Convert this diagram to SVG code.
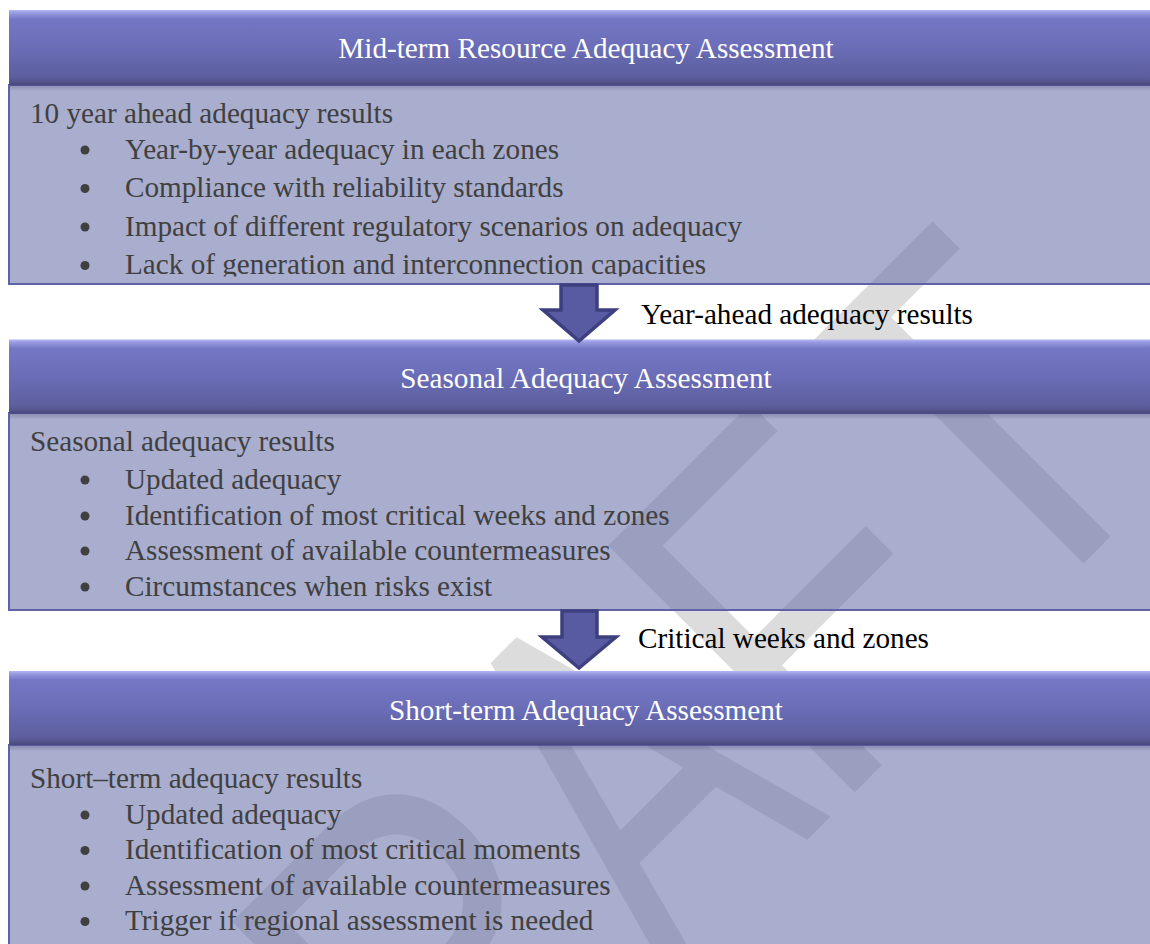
<svg xmlns="http://www.w3.org/2000/svg" width="1150" height="944" viewBox="0 0 1150 944">
<defs>
  <linearGradient id="hdr" x1="0" y1="0" x2="0" y2="1">
    <stop offset="0" stop-color="#B2B6F2"/>
    <stop offset="0.04" stop-color="#979AE0"/>
    <stop offset="0.12" stop-color="#7477C4"/>
    <stop offset="0.5" stop-color="#6B6DB7"/>
    <stop offset="0.88" stop-color="#5D5F9F"/>
    <stop offset="0.95" stop-color="#55568E"/>
    <stop offset="1" stop-color="#46477A"/>
  </linearGradient>
  <linearGradient id="shd" x1="0" y1="0" x2="0" y2="1">
    <stop offset="0" stop-color="#2A2B55" stop-opacity="0.25"/>
    <stop offset="1" stop-color="#2A2B55" stop-opacity="0"/>
  </linearGradient>
  <clipPath id="clip1"><rect x="9" y="85" width="1141" height="191.5"/></clipPath>
</defs>
<style>
  .body{fill:#686EA9;fill-opacity:0.57;stroke:#5F62A9;stroke-width:2}
  .hdr{fill:url(#hdr)}
  .shd{fill:url(#shd)}
  .title{font-family:"Liberation Serif","Times New Roman",serif;font-size:29.2px;fill:#FFFFFF;text-anchor:middle}
  .txt{font-family:"Liberation Serif","Times New Roman",serif;font-size:29.2px;fill:#404040}
  .lbl{font-family:"Liberation Serif","Times New Roman",serif;font-size:29.2px;fill:#000000}
  .bul{fill:#404040}
  .arrow{fill:#585BA1;stroke:#3D3F7E;stroke-width:3.5;stroke-linejoin:miter}
  .wm{font-family:"Liberation Sans",Arial,sans-serif;font-size:507px;fill:#DCDCDC}
</style>
<rect x="0" y="0" width="1150" height="944" fill="#FFFFFF"/>

<g id="watermark">
  <text class="wm" transform="translate(249.8,1397.2) rotate(-45) scale(0.81,1)">D</text>
  <text class="wm" transform="translate(454.8,1192.2) rotate(-45) scale(0.81,1)">R</text>
  <text class="wm" transform="translate(668.4,978.6) rotate(-45) scale(0.68,1)">A</text>
  <text class="wm" transform="translate(831,816) rotate(-45) scale(0.81,1)">F</text>
  <text class="wm" transform="translate(1008.4,638.6) rotate(-45) scale(0.81,1)">T</text>
</g>

<g id="node-midterm">
  <rect class="body" x="9" y="85" width="1150" height="199"/>
  <rect class="hdr" x="9" y="10" width="1150" height="75"/>
  <rect class="shd" x="10" y="85" width="1150" height="6"/>
  <text class="title" x="586" y="58">Mid-term Resource Adequacy Assessment</text>
  <g clip-path="url(#clip1)">
    <text class="txt" x="30" y="122.5">10 year ahead adequacy results</text>
    <circle class="bul" cx="85" cy="150" r="4.5"/>
    <text class="txt" x="125" y="158.5">Year-by-year adequacy in each zones</text>
    <circle class="bul" cx="85" cy="188.5" r="4.5"/>
    <text class="txt" x="125" y="197">Compliance with reliability standards</text>
    <circle class="bul" cx="85" cy="227" r="4.5"/>
    <text class="txt" x="125" y="235.5">Impact of different regulatory scenarios on adequacy</text>
    <circle class="bul" cx="85" cy="265.5" r="4.5"/>
    <text class="txt" x="125" y="274">Lack of generation and interconnection capacities</text>
  </g>
</g>

<g id="node-seasonal">
  <rect class="body" x="9" y="413" width="1150" height="197"/>
  <rect class="hdr" x="9" y="339.5" width="1150" height="74"/>
  <rect class="shd" x="10" y="413.5" width="1150" height="6"/>
  <text class="title" x="586" y="387.5">Seasonal Adequacy Assessment</text>
  <text class="txt" x="30" y="450.5">Seasonal adequacy results</text>
  <circle class="bul" cx="85" cy="480" r="4.5"/>
  <text class="txt" x="125" y="488.5">Updated adequacy</text>
  <circle class="bul" cx="85" cy="516" r="4.5"/>
  <text class="txt" x="125" y="524.5">Identification of most critical weeks and zones</text>
  <circle class="bul" cx="85" cy="551" r="4.5"/>
  <text class="txt" x="125" y="559.5">Assessment of available countermeasures</text>
  <circle class="bul" cx="85" cy="587" r="4.5"/>
  <text class="txt" x="125" y="595.5">Circumstances when risks exist</text>
</g>

<g id="node-shortterm">
  <rect class="body" x="9" y="745" width="1150" height="220"/>
  <rect class="hdr" x="9" y="671" width="1150" height="74"/>
  <rect class="shd" x="10" y="745.5" width="1150" height="6"/>
  <text class="title" x="586" y="720">Short-term Adequacy Assessment</text>
  <text class="txt" x="30" y="788">Short–term adequacy results</text>
  <circle class="bul" cx="85" cy="815" r="4.5"/>
  <text class="txt" x="125" y="823.5">Updated adequacy</text>
  <circle class="bul" cx="85" cy="850.5" r="4.5"/>
  <text class="txt" x="125" y="859">Identification of most critical moments</text>
  <circle class="bul" cx="85" cy="886" r="4.5"/>
  <text class="txt" x="125" y="894.5">Assessment of available countermeasures</text>
  <circle class="bul" cx="85" cy="921.5" r="4.5"/>
  <text class="txt" x="125" y="930">Trigger if regional assessment is needed</text>
</g>

<g id="connectors">
  <polygon class="arrow" points="561,285 597,285 597,310 615,310 579,341 543,310 561,310"/>
  <text class="lbl" x="641" y="323.5">Year-ahead adequacy results</text>
  <polygon class="arrow" points="562,611 597,611 597,637 616,637 579,668 542,637 562,637"/>
  <text class="lbl" x="638" y="647.5">Critical weeks and zones</text>
</g>
</svg>
